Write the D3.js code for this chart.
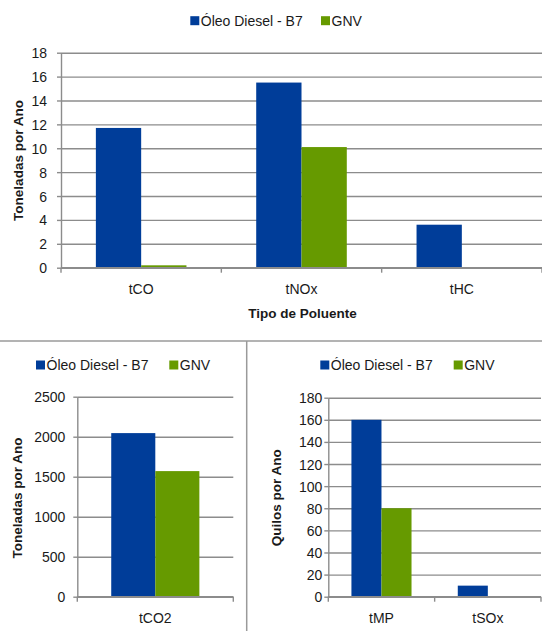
<!DOCTYPE html>
<html>
<head>
<meta charset="utf-8">
<script src="https://cdn.jsdelivr.net/npm/d3@7"></script>
<style>
  html, body { margin: 0; padding: 0; background: #fff; }
  svg { display: block; font-family: "Liberation Sans", Arial, sans-serif; }
</style>
</head>
<body>
<svg id="chart" width="542" height="631"></svg>
<script>
// Emissões anuais: Óleo Diesel - B7 x GNV
const seriesNames = ["Óleo Diesel - B7", "GNV"];
const seriesColors = ["#003d99", "#669a00"];

// Gases (toneladas por ano)
const gasCategories = ["tCO", "tNOx", "tHC"];
const gasDiesel = [11.7, 15.5, 3.6];
const gasGnv = [0.2, 10.1, 0];
const gasTicks = [0, 2, 4, 6, 8, 10, 12, 14, 16, 18];

// CO2 (toneladas por ano)
const co2Categories = ["tCO2"];
const co2Diesel = [2045];
const co2Gnv = [1570];
const co2Ticks = [0, 500, 1000, 1500, 2000, 2500];

// Material particulado e SOx (quilos por ano)
const mpCategories = ["tMP", "tSOx"];
const mpDiesel = [160, 10];
const mpGnv = [80, 0];
const mpTicks = [0, 20, 40, 60, 80, 100, 120, 140, 160, 180];

const svg = d3.select("#chart");
const gridColor = "#8c8c8c";
const textColor = "#1a1a1a";

function drawPanel(opt) {
  const g = svg.append("g");
  const y = d3.scaleLinear()
    .domain([opt.ticks[0], opt.ticks[opt.ticks.length - 1]])
    .range([opt.bottom, opt.top]);
  const x = d3.scaleBand()
    .domain(opt.categories)
    .range([opt.left, opt.right])
    .paddingInner(0.435)
    .paddingOuter(0.2175);
  const sub = d3.scaleBand()
    .domain(seriesNames)
    .range([0, x.bandwidth()]);

  // horizontal gridlines
  const grid = g.append("g")
    .attr("transform", `translate(${opt.left},0)`)
    .call(d3.axisRight(y).tickValues(opt.ticks).tickSize(opt.right - opt.left).tickFormat(""));
  grid.select(".domain").remove();
  grid.selectAll("line").attr("stroke", gridColor).attr("stroke-width", 1.4);

  // y axis with outer ticks and labels
  const ya = g.append("g")
    .attr("transform", `translate(${opt.left},0)`)
    .call(d3.axisLeft(y).tickValues(opt.ticks).tickFormat(d3.format("d"))
      .tickSizeInner(4).tickSizeOuter(0).tickPadding(opt.tickPad));
  ya.select(".domain").attr("stroke", gridColor).attr("stroke-width", 1.4);
  ya.selectAll("line").attr("stroke", gridColor).attr("stroke-width", 1.4);
  ya.selectAll("text")
    .attr("fill", textColor)
    .style("font-size", "14px")
    .attr("dy", "0.36em");

  // bars
  const rows = opt.categories.map((c, i) => ({ cat: c, vals: [opt.diesel[i], opt.gnv[i]] }));
  g.selectAll("g.cat").data(rows).join("g")
    .attr("class", "cat")
    .attr("transform", d => `translate(${x(d.cat)},0)`)
    .selectAll("rect")
    .data(d => d.vals.map((v, k) => ({ name: seriesNames[k], v, k })))
    .join("rect")
    .attr("x", d => sub(d.name))
    .attr("width", sub.bandwidth())
    .attr("y", d => y(d.v))
    .attr("height", d => y(0) - y(d.v))
    .attr("fill", d => seriesColors[d.k]);

  // x axis line and category boundary ticks
  const xa = g.append("g")
    .attr("transform", `translate(0,${opt.bottom})`)
    .call(d3.axisBottom(x).tickSize(0).tickPadding(opt.xPad));
  xa.select(".domain").remove();
  xa.selectAll("text").attr("fill", textColor).style("font-size", "14px");
  g.append("line")
    .attr("x1", opt.left).attr("x2", opt.right)
    .attr("y1", opt.bottom).attr("y2", opt.bottom)
    .attr("stroke", gridColor).attr("stroke-width", 1.4);
  const bounds = opt.categories.map(c => x(c) - x.step() * x.paddingOuter());
  bounds.push(opt.right);
  g.selectAll("line.bnd").data(bounds).join("line")
    .attr("class", "bnd")
    .attr("x1", d => d).attr("x2", d => d)
    .attr("y1", opt.bottom).attr("y2", opt.bottom + 5)
    .attr("stroke", gridColor).attr("stroke-width", 1.4);

  // y title
  g.append("text")
    .attr("transform", `translate(${opt.yTitle[0]},${opt.yTitle[1]}) rotate(-90)`)
    .attr("text-anchor", "middle")
    .attr("dy", "0.36em")
    .attr("fill", textColor)
    .style("font-size", "13.5px")
    .style("font-weight", "bold")
    .text(opt.yLabel);

  if (opt.xLabel) {
    g.append("text")
      .attr("x", opt.xTitle[0]).attr("y", opt.xTitle[1])
      .attr("text-anchor", "middle")
      .attr("dy", "0.36em")
      .attr("fill", textColor)
      .style("font-size", "13.5px")
      .style("font-weight", "bold")
      .text(opt.xLabel);
  }

  // legend
  const lg = g.append("g");
  seriesNames.forEach((name, k) => {
    const lx = opt.legend[k];
    lg.append("rect")
      .attr("x", lx).attr("y", opt.legendY - 4.5)
      .attr("width", 9).attr("height", 9)
      .attr("fill", seriesColors[k]);
    lg.append("text")
      .attr("x", lx + 10.5).attr("y", opt.legendY)
      .attr("dy", "0.36em")
      .attr("fill", textColor)
      .style("font-size", "14px")
      .text(name);
  });
}

drawPanel({
  categories: gasCategories, diesel: gasDiesel, gnv: gasGnv, ticks: gasTicks,
  left: 61, right: 542, top: 52.7, bottom: 267.7,
  tickPad: 10, xPad: 16,
  yLabel: "Toneladas por Ano", yTitle: [18, 160.5],
  xLabel: "Tipo de Poluente", xTitle: [302.5, 313],
  legend: [190.3, 321], legendY: 20.7
});

drawPanel({
  categories: co2Categories, diesel: co2Diesel, gnv: co2Gnv, ticks: co2Ticks,
  left: 77.3, right: 233.3, top: 396.7, bottom: 596.7,
  tickPad: 8, xPad: 16,
  yLabel: "Toneladas por Ano", yTitle: [17.3, 498],
  legend: [36, 169.3], legendY: 365
});

drawPanel({
  categories: mpCategories, diesel: mpDiesel, gnv: mpGnv, ticks: mpTicks,
  left: 328.3, right: 541, top: 397.7, bottom: 596.7,
  tickPad: 2, xPad: 16,
  yLabel: "Quilos por Ano", yTitle: [276, 497.7],
  legend: [320.3, 453.7], legendY: 365
});

// panel separators
svg.append("line")
  .attr("x1", 0).attr("x2", 542).attr("y1", 341).attr("y2", 341)
  .attr("stroke", "#9a9a9a").attr("stroke-width", 1.5);
svg.append("line")
  .attr("x1", 246.7).attr("x2", 246.7).attr("y1", 341).attr("y2", 631)
  .attr("stroke", "#9a9a9a").attr("stroke-width", 1.5);
</script>
</body>
</html>
